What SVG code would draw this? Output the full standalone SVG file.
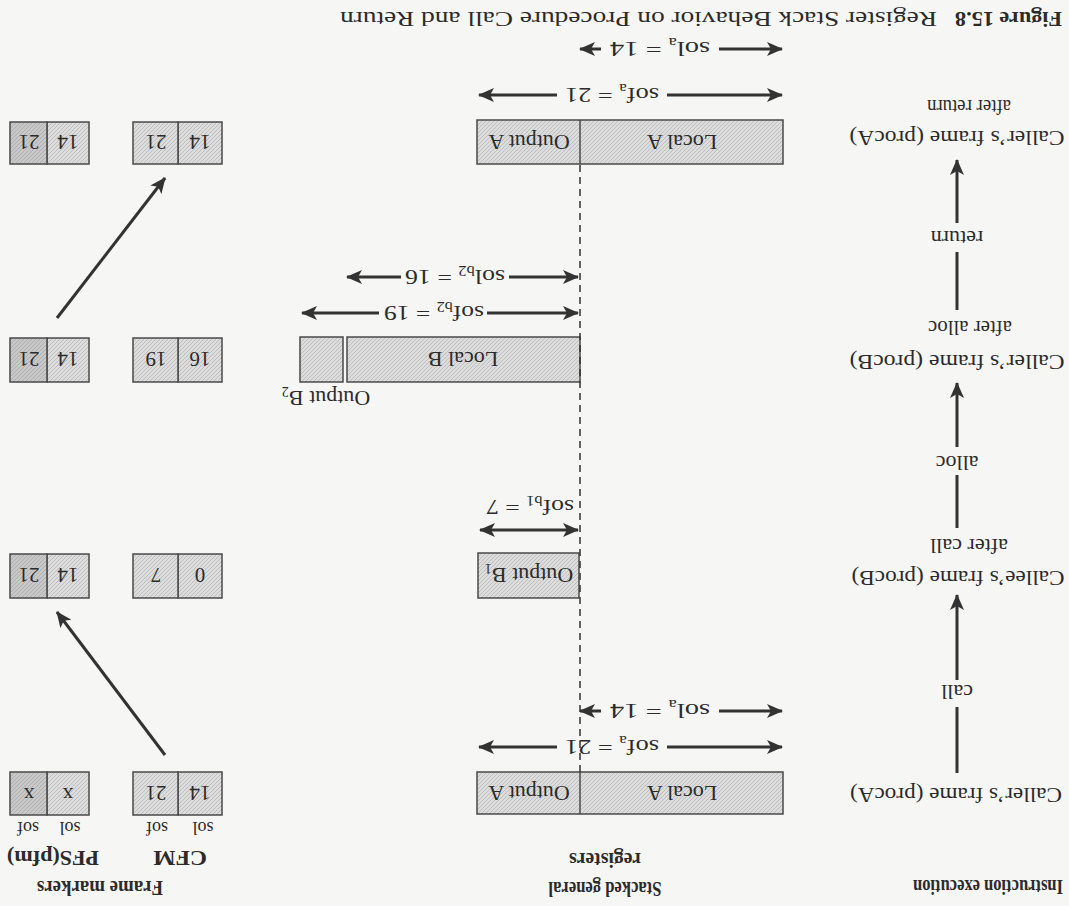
<svg xmlns="http://www.w3.org/2000/svg" width="1069" height="906" viewBox="0 0 1069 906">
<style>
.t{font-family:"Liberation Serif","Times New Roman",serif;fill:#2b2b2b;font-size:22px}
.h{font-weight:bold}
.hd{font-size:21px}
.m{text-anchor:middle}
.sub{font-size:14px}
.num{font-size:21px}
.sm{font-size:18px}
.box{fill:url(#hatch);stroke:#4a4a4a;stroke-width:1.5}
.dark{fill:url(#hatchDark);stroke:#4a4a4a;stroke-width:1.5}
.div{stroke:#4a4a4a;stroke-width:1.5}
.ln{stroke:#333;stroke-width:3;fill:none}
.arr{stroke:#333;stroke-width:3;fill:none;marker-end:url(#ah)}
.dash{stroke:#333;stroke-width:1.5;stroke-dasharray:7 5;fill:none}
</style>
<defs>
<pattern id="hatch" patternUnits="userSpaceOnUse" width="4" height="4">
<rect width="4" height="4" fill="#dcdcdc"/>
<path d="M-1,1 l2,-2 M0,4 l4,-4 M3,5 l2,-2" stroke="#bfbfbf" stroke-width="1"/>
</pattern>
<pattern id="hatchDark" patternUnits="userSpaceOnUse" width="4" height="4">
<rect width="4" height="4" fill="#c8c8c8"/>
<path d="M-1,1 l2,-2 M0,4 l4,-4 M3,5 l2,-2" stroke="#b0b0b0" stroke-width="1"/>
</pattern>
<marker id="ah" markerUnits="userSpaceOnUse" viewBox="0 0 16 14" markerWidth="16" markerHeight="14" refX="15" refY="7" orient="auto">
<path d="M0,0 L16,7 L0,14 L4,7 z" fill="#333"/>
</marker>
</defs>
<rect width="1069" height="906" fill="#f6f6f4"/>
<g transform="rotate(180 534.5 453)">

<g id="title">
<text class="t h" x="7" y="894" textLength="107" lengthAdjust="spacingAndGlyphs">Figure 15.8</text>
<text class="t" x="132" y="894" textLength="597" lengthAdjust="spacingAndGlyphs">Register Stack Behavior on Procedure Call and Return</text>
</g>

<g id="headers">
<text class="t h hd" x="6" y="26" textLength="150" lengthAdjust="spacingAndGlyphs">Instruction execution</text>
<text class="t h hd m" x="464" y="24" textLength="113" lengthAdjust="spacingAndGlyphs">Stacked general</text>
<text class="t h hd m" x="464" y="53" textLength="72" lengthAdjust="spacingAndGlyphs">registers</text>
<text class="t h hd m" x="969" y="25" textLength="126" lengthAdjust="spacingAndGlyphs">Frame markers</text>
<text class="t h hd m" x="889" y="55" textLength="54" lengthAdjust="spacingAndGlyphs">CFM</text>
<text class="t h hd m" x="1016" y="55" textLength="92" lengthAdjust="spacingAndGlyphs">PFS(pfm)</text>
<text class="t sm m" x="866" y="84">sol</text>
<text class="t sm m" x="912" y="84">sof</text>
<text class="t sm m" x="999" y="84">sol</text>
<text class="t sm m" x="1041" y="84">sof</text>
</g>

<g id="state1">
<text class="t m" x="113" y="118" textLength="212" lengthAdjust="spacingAndGlyphs">Caller’s frame (procA)</text>
</g>
<g id="state2">
<text class="t m" x="111" y="335" textLength="213" lengthAdjust="spacingAndGlyphs">Callee’s frame (procB)</text>
<text class="t m" x="100" y="367" textLength="78" lengthAdjust="spacingAndGlyphs">after call</text>
</g>
<g id="state3">
<text class="t m" x="112" y="551" textLength="215" lengthAdjust="spacingAndGlyphs">Caller’s frame (procB)</text>
<text class="t m" x="99" y="585" textLength="84" lengthAdjust="spacingAndGlyphs">after alloc</text>
</g>
<g id="state4">
<text class="t m" x="112" y="775" textLength="215" lengthAdjust="spacingAndGlyphs">Caller’s frame (procA)</text>
<text class="t m" x="100" y="806" textLength="84" lengthAdjust="spacingAndGlyphs">after return</text>
</g>

<g id="regs1">
<rect class="box" x="286" y="92" width="306" height="42"/>
<line class="div" x1="489" y1="92" x2="489" y2="134"/>
<text class="t m" x="387" y="120">Local A</text>
<text class="t m" x="540" y="120">Output A</text>
</g>
<g id="regs2">
<rect class="box" x="490" y="308" width="101" height="45"/>
<text class="t m" x="540" y="338">Output B<tspan class="sub" dy="4">1</tspan></text>
</g>
<g id="regs3">
<rect class="box" x="489" y="524" width="233" height="45"/>
<rect class="box" x="726" y="524" width="43" height="45"/>
<text class="t m" x="606" y="554">Local B</text>
<text class="t m" x="743" y="515">Output B<tspan class="sub" dy="4">2</tspan></text>
</g>
<g id="regs4">
<rect class="box" x="286" y="742" width="306" height="44"/>
<line class="div" x1="489" y1="742" x2="489" y2="786"/>
<text class="t m" x="387" y="771">Local A</text>
<text class="t m" x="540" y="771">Output A</text>
</g>

<g id="fm1">
<rect class="box" x="847" y="91" width="44" height="43"/>
<rect class="box" x="891" y="91" width="45" height="43"/>
<rect class="box" x="980" y="91" width="42" height="43"/>
<rect class="dark" x="1022" y="91" width="37" height="43"/>
<text class="t num m" x="869" y="120">14</text><text class="t num m" x="913" y="120">21</text>
<text class="t num m" x="1001" y="118">x</text><text class="t num m" x="1040" y="118">x</text>
</g>
<g id="fm2">
<rect class="box" x="847" y="308" width="44" height="44"/>
<rect class="box" x="891" y="308" width="45" height="44"/>
<rect class="box" x="980" y="308" width="42" height="44"/>
<rect class="dark" x="1022" y="308" width="37" height="44"/>
<text class="t num m" x="869" y="338">0</text><text class="t num m" x="913" y="338">7</text>
<text class="t num m" x="1001" y="338">14</text><text class="t num m" x="1040" y="338">21</text>
</g>
<g id="fm3">
<rect class="box" x="847" y="524" width="44" height="44"/>
<rect class="box" x="891" y="524" width="45" height="44"/>
<rect class="box" x="980" y="524" width="42" height="44"/>
<rect class="dark" x="1022" y="524" width="37" height="44"/>
<text class="t num m" x="869" y="554">16</text><text class="t num m" x="913" y="554">19</text>
<text class="t num m" x="1001" y="554">14</text><text class="t num m" x="1040" y="554">21</text>
</g>
<g id="fm4">
<rect class="box" x="847" y="742" width="44" height="42"/>
<rect class="box" x="891" y="742" width="45" height="42"/>
<rect class="box" x="980" y="742" width="42" height="42"/>
<rect class="dark" x="1022" y="742" width="37" height="42"/>
<text class="t num m" x="869" y="771">14</text><text class="t num m" x="913" y="771">21</text>
<text class="t num m" x="1001" y="771">14</text><text class="t num m" x="1040" y="771">21</text>
</g>

<g id="connectors">
<line class="ln" x1="112" y1="133" x2="112" y2="199"/>
<line class="arr" x1="112" y1="226" x2="112" y2="311"/>
<text class="t m" x="112" y="221">call</text>
<line class="ln" x1="112" y1="378" x2="112" y2="431"/>
<line class="arr" x1="112" y1="459" x2="112" y2="523"/>
<text class="t m" x="112" y="450">alloc</text>
<line class="ln" x1="112" y1="596" x2="112" y2="654"/>
<line class="arr" x1="112" y1="683" x2="112" y2="746"/>
<text class="t m" x="112" y="675">return</text>

<line class="dash" x1="489" y1="134" x2="489" y2="742"/>

<line class="arr" x1="402" y1="159" x2="287" y2="159"/>
<line class="arr" x1="512" y1="159" x2="590" y2="159"/>
<text class="t m" x="457" y="166" textLength="94" lengthAdjust="spacingAndGlyphs">sof<tspan class="sub" dy="4">a</tspan><tspan dy="-4"> = 21</tspan></text>
<line class="arr" x1="350" y1="195" x2="287" y2="195"/>
<line class="arr" x1="468" y1="195" x2="489" y2="195"/>
<text class="t m" x="409" y="202" textLength="100" lengthAdjust="spacingAndGlyphs">sol<tspan class="sub" dy="4">a</tspan><tspan dy="-4"> = 14</tspan></text>

<line class="arr" x1="540" y1="376" x2="491" y2="376"/>
<line class="arr" x1="540" y1="376" x2="589" y2="376"/>
<text class="t m" x="539" y="406" textLength="88" lengthAdjust="spacingAndGlyphs">sof<tspan class="sub" dy="4">b1</tspan><tspan dy="-4"> = 7</tspan></text>

<line class="arr" x1="582" y1="593" x2="491" y2="593"/>
<line class="arr" x1="690" y1="593" x2="767" y2="593"/>
<text class="t m" x="635" y="600" textLength="100" lengthAdjust="spacingAndGlyphs">sof<tspan class="sub" dy="4">b2</tspan><tspan dy="-4"> = 19</tspan></text>
<line class="arr" x1="560" y1="629" x2="491" y2="629"/>
<line class="arr" x1="668" y1="629" x2="722" y2="629"/>
<text class="t m" x="614" y="636" textLength="100" lengthAdjust="spacingAndGlyphs">sol<tspan class="sub" dy="4">b2</tspan><tspan dy="-4"> = 16</tspan></text>

<line class="arr" x1="402" y1="811" x2="287" y2="811"/>
<line class="arr" x1="512" y1="811" x2="590" y2="811"/>
<text class="t m" x="457" y="818" textLength="94" lengthAdjust="spacingAndGlyphs">sof<tspan class="sub" dy="4">a</tspan><tspan dy="-4"> = 21</tspan></text>
<line class="arr" x1="350" y1="857" x2="287" y2="857"/>
<line class="arr" x1="468" y1="857" x2="489" y2="857"/>
<text class="t m" x="409" y="864" textLength="100" lengthAdjust="spacingAndGlyphs">sol<tspan class="sub" dy="4">a</tspan><tspan dy="-4"> = 14</tspan></text>

<line class="arr" x1="904" y1="151" x2="1012" y2="294"/>
<line class="arr" x1="1012" y1="588" x2="904" y2="728"/>
</g>
</g>
</svg>
